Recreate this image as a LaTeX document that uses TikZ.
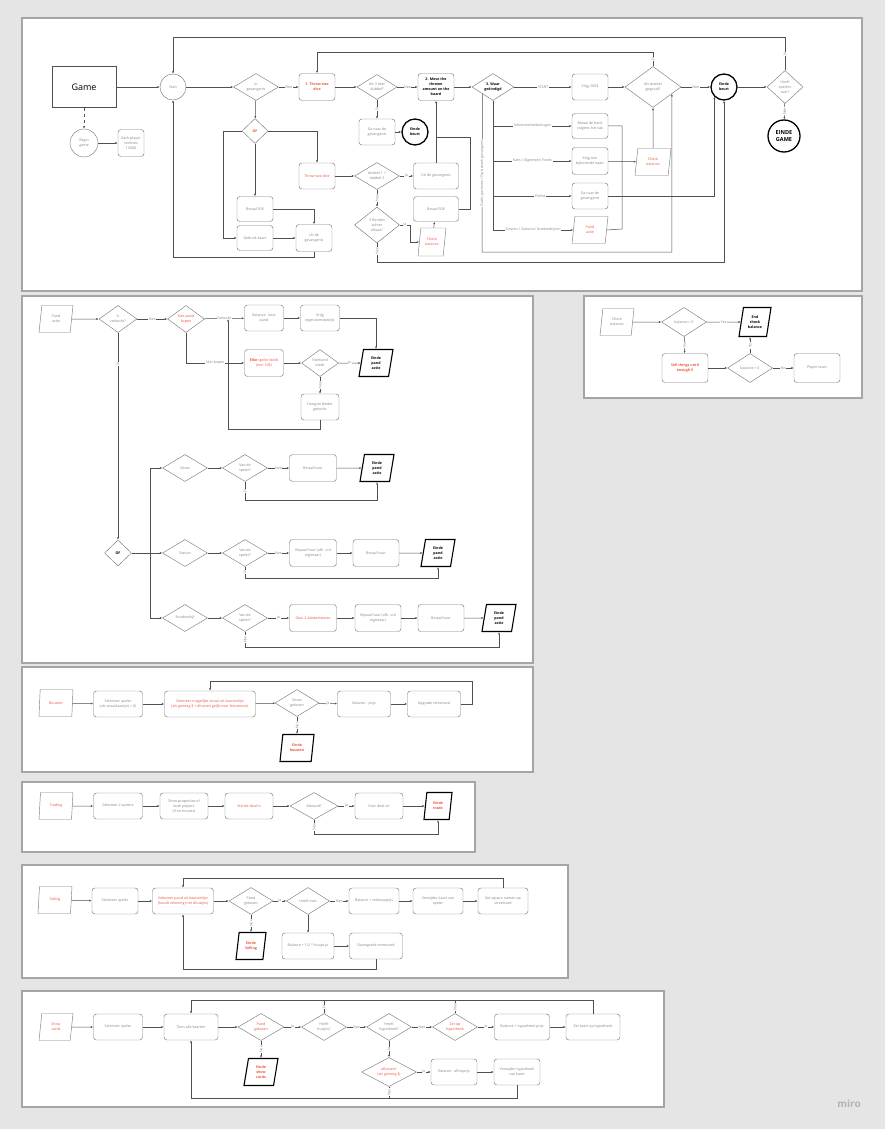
\documentclass[tikz,border=0pt]{standalone}
\usepackage{fontspec}
\setmainfont{Open Sans}
\usepackage{tikz}
\usetikzlibrary{shapes.geometric}
\usetikzlibrary{arrows.meta}
\usepackage{xcolor}

\definecolor{bggray}{RGB}{229,229,229}
\definecolor{framegray}{RGB}{165,165,165}
\definecolor{boxgray}{RGB}{125,125,125}
\definecolor{textgray}{RGB}{135,135,135}
\definecolor{linegray}{RGB}{80,80,80}
\definecolor{mirored}{RGB}{235,87,60}

\newcommand{\dgfont}{\fontsize{3.6}{5}\selectfont}

\begin{document}
\begin{tikzpicture}[x=1pt,y=-1pt,
    panel/.style={fill=white, draw=framegray, line width=1.2pt},
    box/.style={draw=boxgray, line width=0.45pt, rounded corners=3pt, minimum width=36pt, minimum height=26pt, inner sep=0.5pt, align=center, text=textgray, font=\dgfont},
    dec/.style={draw=boxgray, line width=0.45pt, diamond, aspect=1.7, minimum width=45pt, minimum height=27pt, inner sep=0pt, align=center, text=textgray, font=\dgfont},
    io/.style={draw=boxgray, line width=0.45pt, trapezium, trapezium left angle=72, trapezium right angle=108, trapezium stretches body, minimum width=34pt, minimum height=27pt, inner sep=0.5pt, align=center, text=textgray, font=\dgfont},
    endio/.style={io, draw=black, line width=1.1pt, text=black, font=\dgfont\bfseries},
    rnd/.style={draw=boxgray, line width=0.45pt, circle, minimum size=26pt, inner sep=0pt, align=center, text=textgray, font=\dgfont},
    endrnd/.style={rnd, draw=black, line width=1.3pt, text=black, font=\dgfont\bfseries},
    hl/.style={text=mirored},
    heavy/.style={font=\dgfont\bfseries},
    conn/.style={draw=linegray, line width=0.5pt, -{Latex[length=2.4pt, width=2pt]}},
    link/.style={draw=linegray, line width=0.5pt},
    lbl/.style={fill=white, inner sep=0.6pt, text=textgray, font=\dgfont},
]

\useasboundingbox (0,0) rectangle (885,1129);
\fill[bggray] (0,0) rectangle (885,1129);

\draw[panel] (22,18) rectangle (862,291);
\draw[panel] (22,296) rectangle (533,663);
\draw[panel] (584,296) rectangle (862,398);
\draw[panel] (22,667) rectangle (533,772);
\draw[panel] (22,782) rectangle (475,852);
\draw[panel] (22,865) rectangle (568,978);
\draw[panel] (22,991) rectangle (664,1107);

% game loop
\node[draw=linegray, line width=0.7pt, minimum width=64pt, minimum height=41pt, font=\fontsize{9}{10}\selectfont] (game) at (84,87) {Game};
\node[rnd, minimum size=28pt] (begin) at (84,143) {Begin\\game};
\node[box, minimum width=26pt, minimum height=27pt] (each) at (131,143) {Each player\\receives\\1500\$};
\node[rnd] (start) at (173,87) {Start};
\node[dec] (ingev) at (256,87) {In\\gevangenis};
\node[box, hl, heavy, minimum height=27pt] (throwA) at (317,87) {1. Throw two\\dice};
\node[dec, hl, heavy, minimum width=26pt, minimum height=25pt] (ofA) at (255,131) {OF};
\node[box, hl] (throwB) at (317,176) {Throw two dice};
\node[box, minimum height=25pt] (betA) at (255,209) {Betaal 50\$};
\node[box, minimum height=25pt] (kaart) at (255,238) {Gebruik kaart};
\node[box, minimum height=27pt] (uitA) at (314,238) {Uit de\\gevangenis};

\node[dec, minimum width=40pt, minimum height=25pt] (drie) at (377,87) {Als 3 keer\\dubbel?};
\node[box] (gana) at (377,132) {Ga naar de\\gevangenis};
\node[endrnd] (eindeA) at (415,132) {Einde\\beurt};
\node[box, heavy, text=black, minimum height=27pt] (move) at (436,87) {2. Move the\\thrown\\amount on the\\board};
\node[dec] (dobbel) at (377,176) {dobbel 1 =\\dobbel 2};
\node[box, minimum width=45pt] (uitB) at (436,176) {Uit de gevangenis};
\node[dec, minimum height=36pt] (rondes) at (377,225) {3 Rondes\\achter\\elkaar?};
\node[box, minimum width=45pt, minimum height=25pt] (betB) at (436,209) {Betaal 50\$};
\node[io, hl, minimum width=28pt, minimum height=28pt] (checkA) at (432,242) {Check\\balance};

\node[dec, heavy, text=black, minimum width=42pt] (waar) at (493,87) {3. Waar\\geëindigd};
\node[box] (krijg) at (590,87) {Krijg 200\$};
\node[box, minimum height=25pt] (bank) at (590,126) {Betaal de bank\\volgens het vak};
\node[box, minimum height=27pt] (kans) at (590,161) {Krijg een\\bijhorende kaart};
\node[box] (ganaB) at (590,196) {Ga naar de\\gevangenis};
\node[io, hl, minimum width=36pt] (pandA) at (590,230) {Pand\\actie};
\node[io, hl, minimum width=36pt] (checkB) at (653,162) {Check\\balance};
\node[dec, minimum width=56pt, minimum height=41pt] (dubbel) at (653,87) {Als dubbel\\gegooid?};
\node[endrnd] (eindeB) at (724,87) {Einde\\beurt};
\node[dec, minimum width=36pt, minimum height=33pt] (over) at (785,87) {Heeft\\spelers\\over?};
\node[endrnd, minimum size=32pt, font=\fontsize{5.5}{6.8}\selectfont\bfseries] (eindegame) at (784,136) {EINDE\\GAME};

\draw[conn, dashed] (game) -- (begin);
\draw[conn] (begin) -- (each);
\draw[conn] (game) -- (start);
\draw[conn] (start) -- (ingev);
\draw[conn] (ingev) -- node[lbl]{Nee} (throwA);
\draw[conn] (ingev) -- (ofA);
\draw[conn] (ofA.west) -- (223,131) |- (kaart.west);
\draw[conn] (ofA) -- (betA);
\draw[conn] (ofA.east) -| (throwB.north);
\draw[conn] (betA.east) -| (uitA.north);
\draw[conn] (kaart) -- (uitA);
\draw[conn] (uitA.south) -- (314,257) -| (start.south);
\draw[conn] (over.north) -- node[lbl, rotate=90]{Ja} (785,37) -| (start.north);

\draw[conn] (throwA) -- (drie);
\draw[conn] (drie) -- node[lbl]{Nee} (move);
\draw[conn] (drie) -- node[lbl, rotate=90]{Ja} (gana);
\draw[conn] (gana) -- (eindeA);
\draw[conn] (move) -- (waar);
\draw[conn] (dubbel.north) -- node[lbl, rotate=90]{Ja} (653,52) -| (throwA.north);
\draw[conn] (throwB) -- (dobbel);
\draw[conn] (dobbel) -- node[lbl]{Ja} (uitB);
\draw[conn] (uitB) -- (move);
\draw[link] (betB.east) -- (470,209) |- (436,137);
\draw[conn] (dobbel) -- node[lbl, rotate=90]{Nee} (rondes);
\draw[conn] (rondes.east) -- node[lbl]{Ja} (410,225) |- (checkA.west);
\draw[conn] (checkA) -- (betB);
\draw[conn] (rondes.south) -- node[lbl, rotate=90, pos=0.4]{Nee} (377,262) -| (eindeB.south);

\draw[conn] (waar) -- node[lbl]{START} (krijg);
\draw[conn] (waar.south) |- node[lbl, pos=0.75]{Inkomstenbelastingen} (bank.west);
\draw[conn] (waar.south) |- node[lbl, pos=0.75]{Kans / Algemeen Fonds} (kans.west);
\draw[conn] (waar.south) |- node[lbl, pos=0.8]{Politie} (ganaB.west);
\draw[conn] (waar.south) |- node[lbl, pos=0.75]{Straten / Stations/ Nutsbedrijven} (pandA.west);
\draw[conn] (waar.south west) -- node[lbl, rotate=90]{Gratis parkeren / Op bezoek gevangenis} (482,252) -| (dubbel.-20);
\draw[conn] (krijg) -- (dubbel);
\draw[link] (bank.east) -| (622,229) -- (pandA.east);
\draw[conn] (kans) -- (checkB);
\draw[conn] (checkB) -- (dubbel);
\draw[conn] (ganaB.east) -| (eindeB.south west);
\draw[conn] (dubbel) -- node[lbl]{Nee} (eindeB);
\draw[conn] (eindeB) -- (over);
\draw[conn] (over) -- node[lbl, rotate=90]{Nee} (eindegame);

% pand actie
\node[io] (pand) at (56,319) {Pand\\actie};
\node[dec, minimum width=38pt] (verkocht) at (118,319) {Is\\verkocht?};
\node[dec, hl, minimum width=37pt] (kies) at (186,319) {Kies pand\\kopen};
\node[box, minimum width=39pt] (kost) at (264,318) {Balance - kost\\pand};
\node[box, minimum width=39pt] (bewijs) at (320,318) {Krijg\\eigendomsbewijs};
\node[endio, minimum width=34pt] (eindeP) at (376,363) {Einde\\pand\\actie};
\node[box, hl, minimum width=39pt, minimum height=27pt] (biedt) at (264,363) {\textbf{Elke} speler biedt\\(min 10\$)};
\node[dec, minimum width=37pt] (niemand) at (320,363) {Niemand\\biedt};
\node[box, minimum width=38pt] (hoogste) at (320,407) {Hoogste bieder\\gekocht};
\node[dec, heavy, text=black, minimum width=27pt, minimum height=26pt] (ofB) at (118,553) {OF};
\coordinate (gekocht) at (228,319);

\draw[conn] (pand) -- (verkocht);
\draw[conn] (verkocht) -- node[lbl]{Nee} (kies);
\draw[conn] (kies) -- node[lbl]{Gekocht} (kost);
\draw[conn] (kost) -- (bewijs);
\draw[conn] (bewijs.east) -| (eindeP.north);
\draw[conn] (kies.south) |- node[lbl, pos=0.75]{Niet kopen} (biedt.west);
\draw[conn] (biedt) -- (niemand);
\draw[conn] (niemand) -- node[lbl]{Ja} (eindeP);
\draw[conn] (niemand) -- node[lbl, rotate=90]{Nee} (hoogste);
\draw[conn] (hoogste.south) -- (320,429) -| (gekocht);
\draw[conn] (verkocht) -- node[lbl, rotate=90, pos=0.15]{Ja} (ofB);

\node[dec] (straat) at (185,468) {Straat};
\node[dec] (vanA) at (245,468) {Van de\\speler?};
\node[box, minimum width=47pt, minimum height=27pt] (huurA) at (313,468) {Betaal huur};
\node[endio] (eindeQ) at (377,468) {Einde\\pand\\actie};
\node[dec] (station) at (185,553) {Station};
\node[dec] (vanB) at (245,553) {Van de\\speler?};
\node[box, minimum width=47pt, minimum height=27pt] (bepaalA) at (313,553) {Bepaal huur (afh. v/d\\eigenaar)};
\node[box, minimum width=46pt, minimum height=27pt] (huurB) at (376,553) {Betaal huur};
\node[endio] (eindeR) at (438,553) {Einde\\pand\\actie};
\node[dec] (nuts) at (185,618) {Nutsbedrijf};
\node[dec] (vanC) at (245,618) {Van de\\speler?};
\node[box, hl, minimum width=47pt, minimum height=27pt] (gooi) at (313,618) {Gooi 2 dobbelstenen};
\node[box, minimum width=46pt, minimum height=27pt] (bepaalB) at (378,618) {Bepaal huur (afh. v/d\\eigenaar)};
\node[box, minimum width=46pt, minimum height=27pt] (huurC) at (441,618) {Betaal huur};
\node[endio] (eindeS) at (499,618) {Einde\\pand\\actie};

\draw[conn] (ofB.east) -| (150,468) -- (straat);
\draw[conn] (ofB) -- (station);
\draw[conn] (ofB.east) -| (150,618) -- (nuts);
\draw[conn] (straat) -- (vanA);
\draw[conn] (vanA) -- node[lbl]{Nee} (huurA);
\draw[conn] (huurA) -- (eindeQ);
\draw[conn] (vanA.south) -- node[lbl, rotate=90]{Ja} (245,500) -| (eindeQ.south);
\draw[conn] (station) -- (vanB);
\draw[conn] (vanB) -- node[lbl]{Nee} (bepaalA);
\draw[conn] (bepaalA) -- (huurB);
\draw[conn] (huurB) -- (eindeR);
\draw[conn] (vanB.south) -- node[lbl, rotate=90]{Ja} (245,578) -| (eindeR.south);
\draw[conn] (nuts) -- (vanC);
\draw[conn] (vanC) -- node[lbl]{Ja} (gooi);
\draw[conn] (gooi) -- (bepaalB);
\draw[conn] (bepaalB) -- (huurC);
\draw[conn] (huurC) -- (eindeS);
\draw[conn] (vanC.south) -- node[lbl, rotate=90]{Nee} (245,647) -| (eindeS.south);

% check balance
\node[io] (checkC) at (617,322) {Check\\balance};
\node[dec, minimum height=29pt] (balA) at (684,322) {balance > 0};
\node[endio, minimum width=32pt, minimum height=29pt] (endcheck) at (755,322) {End\\check\\balance};
\node[box, hl, heavy, minimum width=46pt, minimum height=29pt] (sell) at (685,368) {Sell things until\\enough \$};
\node[dec, minimum height=29pt] (balB) at (750,368) {balance > 0};
\node[box, minimum width=46pt, minimum height=29pt] (loses) at (817,368) {Player loses};

\draw[conn] (checkC) -- (balA);
\draw[conn] (balA) -- node[lbl]{Yes} (endcheck);
\draw[conn] (balA) -- node[lbl, rotate=90]{No} (sell);
\draw[conn] (sell) -- (balB);
\draw[conn] (balB) -- node[lbl, rotate=90]{Yes} (endcheck.south -| balB.north);
\draw[conn] (balB) -- node[lbl]{No} (loses);

% bouwen
\node[io, hl] (bouwen) at (56,703) {Bouwen};
\node[box, minimum width=49pt] (selA) at (118,704) {Selecteer speler\\(als straatkaartjes > 0)};
\node[box, hl, minimum width=91pt] (mogelijk) at (210,704) {Selecteer mogelijke straat uit kaartenlijst\\(als genoeg \$ + \#huizen gelijk over kleurenset)};
\node[dec, minimum width=44pt] (gekozenA) at (297,703) {Straat\\gekozen};
\node[box, minimum width=53pt] (prijs) at (364,704) {Balance - prijs};
\node[box, minimum width=53pt] (upgrade) at (434,704) {Upgrade streetcard};
\node[endio, text=mirored] (eindeBw) at (297,748) {Einde\\bouwen};

\draw[conn] (bouwen) -- (selA);
\draw[conn] (selA) -- (mogelijk);
\draw[conn] (mogelijk) -- (gekozenA);
\draw[conn] (gekozenA) -- node[lbl]{Ja} (prijs);
\draw[conn] (prijs) -- (upgrade);
\draw[conn] (upgrade.east) -- (472,704) |- (210,681) -- (mogelijk.north);
\draw[conn] (gekozenA) -- node[lbl, rotate=90]{Nee} (eindeBw);

% trading
\node[io, hl] (trading) at (56,806) {Trading};
\node[box, minimum width=49pt] (twee) at (118,806) {Selecteer 2 spelers};
\node[box, minimum width=48pt] (show) at (184,806) {Show properties of\\both players\\(if no houses)};
\node[box, hl, minimum width=48pt] (deal) at (249,806) {Stel de deal in};
\node[dec, minimum width=48pt] (akkoord) at (314,806) {Akkoord?};
\node[box, minimum width=48pt] (voer) at (379,806) {Voer deal uit};
\node[endio, text=mirored, minimum width=28pt] (eindeT) at (438,806) {Einde\\trade};

\draw[conn] (trading) -- (twee);
\draw[conn] (twee) -- (show);
\draw[conn] (show) -- (deal);
\draw[conn] (deal) -- (akkoord);
\draw[conn] (akkoord) -- node[lbl]{Ja} (voer);
\draw[conn] (voer) -- (eindeT);
\draw[conn] (akkoord.south) -- node[lbl, rotate=90]{Nee} (314,834) -| (eindeT.south);

% selling
\node[io, hl] (selling) at (55,900) {Selling};
\node[box, minimum width=46pt] (selB) at (115,901) {Selecteer speler};
\node[box, hl, minimum width=61pt] (selpand) at (183,901) {Selecteer pand uit kaartenlijst\\(houdt rekening met \#huisjes)};
\node[dec, minimum width=44pt] (gekozenB) at (251,901) {Pand\\gekozen};
\node[dec, minimum width=43pt] (huis) at (308,901) {Heeft huis};
\node[box, minimum width=50pt] (verkoop) at (374,901) {Balance + verkoopprijs};
\node[box, minimum width=50pt] (verwijder) at (438,901) {Verwijder kaart van\\speler};
\node[box, minimum width=50pt] (zet) at (503,901) {Zet square namen op\\streetcard};
\node[endio, text=mirored, minimum width=30pt] (eindeSel) at (251,946) {Einde\\Selling};
\node[box, minimum width=52pt] (half) at (308,946) {Balance + 1/2 * huisprijs};
\node[box, minimum width=53pt] (down) at (376,946) {Downgrade streetcard};

\draw[conn] (selling) -- (selB);
\draw[conn] (selB) -- (selpand);
\draw[conn] (selpand) -- (gekozenB);
\draw[conn] (gekozenB) -- node[lbl]{Ja} (huis);
\draw[conn] (huis) -- node[lbl]{Nee} (verkoop);
\draw[conn] (verkoop) -- (verwijder);
\draw[conn] (verwijder) -- (zet);
\draw[conn] (zet.north) -- (503,878) -| (selpand.north);
\draw[conn] (gekozenB) -- node[lbl, rotate=90]{Nee} (eindeSel);
\draw[conn] (huis) -- (half);
\draw[conn] (half) -- (down);
\draw[conn] (down.south) -- (376,969) -| (selpand.south);

% show cards
\node[io, hl] (showc) at (56,1027) {Show\\cards};
\node[box, minimum width=49pt] (selC) at (118,1027) {Selecteer speler};
\node[box, minimum width=54pt] (toon) at (191,1027) {Toon alle kaarten};
\node[dec, hl, minimum width=46pt] (gekozenC) at (261,1027) {Pand\\gekozen};
\node[endio, text=mirored] (eindeSh) at (261,1072) {Einde\\show\\cards};
\node[dec] (huisjes) at (324,1027) {Heeft\\huisjes?};
\node[dec] (hyp) at (389,1027) {Heeft\\hypotheek?};
\node[dec, hl] (zetop) at (455,1027) {Zet op\\hypotheek};
\node[box, minimum width=55pt] (hprijs) at (522,1027) {Balance + hypotheek prijs};
\node[box, minimum width=54pt] (zetk) at (593,1027) {Zet kaart op hypotheek};
\node[dec, hl, minimum width=55pt, minimum height=29pt] (aflossen) at (389,1072) {aflossen?\\(als genoeg \$)};
\node[box, minimum width=46pt] (aflos) at (454,1072) {Balance - aflosprijs};
\node[box, minimum width=46pt] (verwH) at (517,1072) {Verwijder hypotheek\\van kaart};

\draw[conn] (showc) -- (selC);
\draw[conn] (selC) -- (toon);
\draw[conn] (toon) -- (gekozenC);
\draw[conn] (gekozenC) -- node[lbl, rotate=90]{Nee} (eindeSh);
\draw[conn] (gekozenC) -- node[lbl]{Ja} (huisjes);
\draw[conn] (huisjes) -- node[lbl]{Nee} (hyp);
\draw[conn] (hyp) -- node[lbl]{Nee} (zetop);
\draw[conn] (zetop) -- node[lbl]{Ja} (hprijs);
\draw[conn] (hprijs) -- (zetk);
\draw[conn] (zetk.north) -- (593,1000) -| (toon.north);
\draw[link] (huisjes.north) -- node[lbl, rotate=90]{Ja} (324,1000);
\draw[link] (zetop.north) -- node[lbl, rotate=90]{Nee} (455,1000);
\draw[conn] (hyp) -- node[lbl, rotate=90]{Ja} (aflossen);
\draw[conn] (aflossen) -- node[lbl]{Ja} (aflos);
\draw[conn] (aflos) -- (verwH);
\draw[conn] (verwH.south) -- (517,1098) -| (toon.south);
\draw[link] (aflossen.south) -- node[lbl, rotate=90]{Nee} (389,1098);

\node[text=black!30, font=\fontsize{10}{10}\selectfont\bfseries] (miro) at (849,1104) {miro};

\end{tikzpicture}
\end{document}
